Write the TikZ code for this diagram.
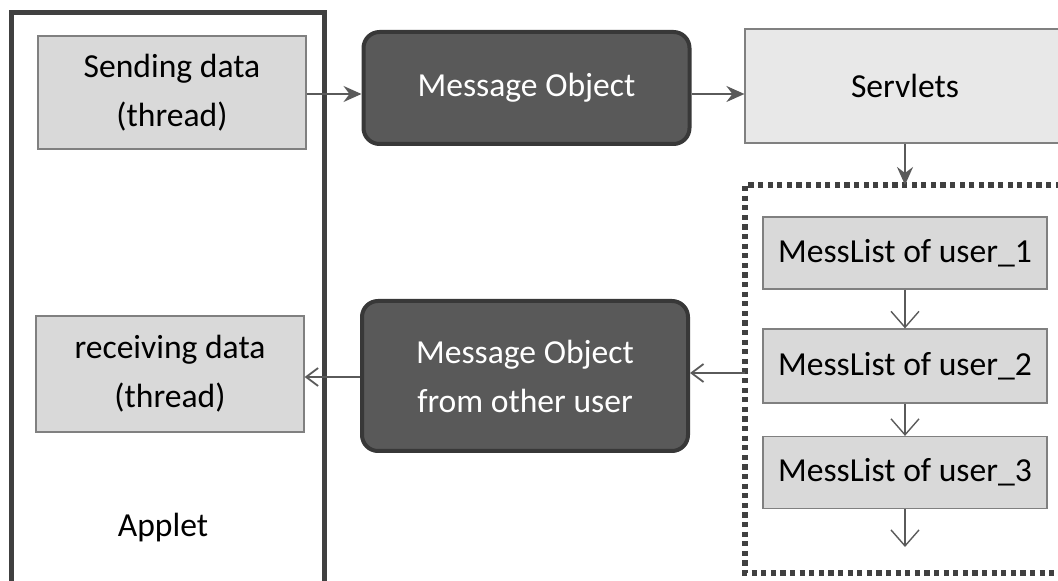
\documentclass[tikz,border=0pt]{standalone}
\usepackage{fontspec}
\setmainfont{Carlito}
\usetikzlibrary{arrows.meta, positioning}
\definecolor{framegray}{RGB}{64,64,64}
\definecolor{boxfill}{RGB}{217,217,217}
\definecolor{boxline}{RGB}{128,128,128}
\definecolor{servfill}{RGB}{232,232,232}
\definecolor{objfill}{RGB}{89,89,89}
\definecolor{objline}{RGB}{56,56,56}
\definecolor{arrowgray}{RGB}{90,90,90}

\begin{document}
\begin{tikzpicture}[
    x=0.5pt, y=-0.5pt,
    every node/.style={font=\fontsize{16.8}{24.5}\selectfont},
    threadbox/.style={rectangle, draw=boxline, fill=boxfill, line width=0.6pt, minimum width=134pt, align=center, inner sep=0pt},
    msgobj/.style={rectangle, draw=objline, fill=objfill, line width=2pt, rounded corners=8pt, minimum width=163pt, align=center, text=white, inner sep=0pt},
    listbox/.style={rectangle, draw=boxline, fill=boxfill, line width=0.6pt, minimum width=142pt, minimum height=36pt, inner sep=0pt},
    arrow/.style={-{Stealth[length=9pt, width=8pt, inset=3pt]}, arrowgray, line width=1pt},
    openarrow/.style={-{Straight Barb[length=6pt, width=9pt]}, arrowgray, line width=0.9pt},
    listarrow/.style={-{Straight Barb[length=8pt, width=14pt]}, arrowgray, line width=0.7pt}
]
\useasboundingbox (0,0) rectangle (1058,581);
\clip (0,0) rectangle (1058,581);

% applet side
\draw[framegray, line width=2.6pt] (11.5,620) -- (11.5,12.5) -- (324.5,12.5) -- (324.5,620);
\node[threadbox, minimum height=56.5pt] (send) at (172,92.5) {Sending data\\(thread)};
\node[threadbox, minimum height=58pt] (recv) at (170,374) {receiving data\\(thread)};
\node (applet) at (163,528) {Applet};

% message objects
\node[msgobj, minimum height=56pt] (mobj) at (526.5,88) {Message Object};
\node[msgobj, minimum height=75pt] (mobjin) at (525,376) {Message Object\\from other user};

% server side
\node[rectangle, draw=boxline, fill=servfill, line width=0.6pt, minimum width=160pt, minimum height=57pt] (servlets) at (905,86) {Servlets};
\draw[framegray, line width=2.6pt, dash pattern=on 2.6pt off 2.2pt] (1080,185) -- (745,185) -- (745,573) -- (1080,573);
\coordinate (lstw) at (745,373);
\coordinate (lsttop) at (905,185);
\node[listbox] (ml1) at (905,253) {MessList of user\_1};
\node[listbox, minimum height=37pt] (ml2) at (905,366) {MessList of user\_2};
\node[listbox] (ml3) at (905,472.5) {MessList of user\_3};
\coordinate (lstend) at (905,547);

% connectors
\draw[arrow] (send.east |- 0,94) -- (mobj.west |- 0,94);
\draw[arrow] (mobj.east |- 0,94) -- (servlets.west |- 0,94);
\draw[arrow] (servlets.south) -- (lsttop);
\draw[listarrow] (ml1) -- (ml2);
\draw[listarrow] (ml2) -- (ml3);
\draw[listarrow] (ml3) -- (lstend);
\draw[openarrow] (lstw) -- (lstw -| mobjin.east);
\draw[openarrow] (mobjin.west |- 0,377) -- (recv.east |- 0,377);
\end{tikzpicture}
\end{document}
